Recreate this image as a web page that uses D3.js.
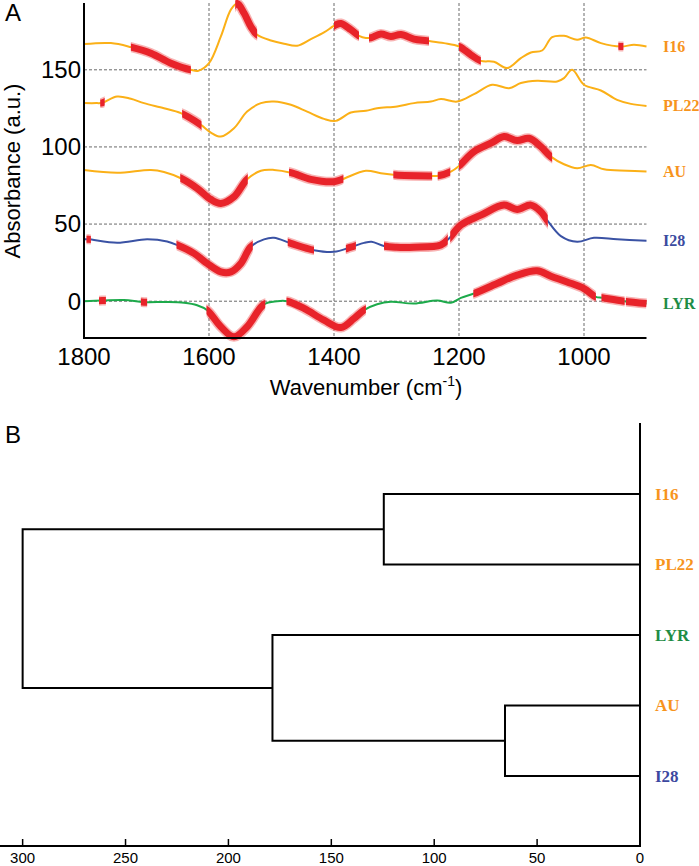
<!DOCTYPE html>
<html><head><meta charset="utf-8">
<script src="https://cdn.jsdelivr.net/npm/d3@7"></script>
<style>body{margin:0;background:#fff}svg{display:block}</style>
</head><body>
<svg id="c" width="699" height="866"></svg>
<script>
// ---------- Panel A data ----------
const xTicks = [1800, 1600, 1400, 1200, 1000];
const yTicks = [0, 50, 100, 150];
const seriesNames = ["I16", "PL22", "AU", "I28", "LYR"];
const seriesLine = ["#FBB017", "#FBB017", "#FBB017", "#3A52A4", "#1DAA4B"];
const seriesLabel = ["#F7941D", "#F7941D", "#F7941D", "#3B4BA0", "#1E8C45"];

const i16 = [[1800,166.7],[1757,167.3],[1725,164.7],[1693,160.8],[1661,154.3],[1629,150],[1617,149.4],[1600,154.3],[1581,171.6],[1565,189],[1555,193],[1544,186.8],[1533,178],[1523,172.7],[1501,169],[1480,166.9],[1459,165.6],[1437,169.9],[1416,174.2],[1397,179.2],[1389,180],[1373,176],[1360,172],[1349,170.6],[1341,170.8],[1325,173.2],[1309,171.6],[1293,172.9],[1272,169.9],[1251,168.8],[1224,167.3],[1200,165.1],[1181,159.7],[1165,155.8],[1144,155.2],[1123,151.1],[1101,157.6],[1085,161.2],[1067,162.5],[1051,171.2],[1032,172],[1011,169.5],[997,171],[973,167.3],[941,165.1],[920,166.2],[900,165.1]];
const pl22 = [[1800,128.4],[1780,128.4],[1771,128.6],[1747,132.7],[1725,131.2],[1704,128.4],[1672,125.1],[1645,121.9],[1613,114.3],[1597,109.3],[1581,106.7],[1560,112.1],[1539,122.9],[1517,128.4],[1496,129.4],[1469,127.3],[1443,122.9],[1416,118.2],[1397,116.9],[1373,122.3],[1349,123.4],[1331,125.1],[1299,126.2],[1272,128.4],[1245,129.4],[1229,131],[1203,129.4],[1176,134.2],[1147,140.3],[1120,138.1],[1101,141.4],[1075,142.9],[1043,142.4],[1032,144.6],[1019,150],[1000,140.3],[973,136.6],[947,130.5],[925,127.9],[900,126.6]];
const au = [[1800,85.1],[1747,83.3],[1693,85.1],[1672,83.8],[1645,79.7],[1619,73.2],[1597,66],[1581,63.4],[1560,67.7],[1539,79],[1517,84.6],[1496,85.1],[1469,83.3],[1437,79],[1400,77.5],[1387,79],[1349,84.6],[1325,82.9],[1301,81.8],[1245,81.2],[1235,81.2],[1213,84],[1200,87.7],[1176,97],[1149,102.4],[1128,106.7],[1107,104.1],[1088,105.6],[1069,100.2],[1053,93.7],[1032,88.8],[1011,86.2],[989,88.3],[968,85.5],[931,84.6],[900,84]];
const i28 = [[1800,40.1],[1793,40.1],[1747,37.9],[1699,40.1],[1667,38.7],[1651,36.4],[1624,31],[1603,24.5],[1581,19],[1565,19],[1549,24.5],[1533,35.3],[1512,40.1],[1496,41.1],[1469,37.5],[1432,33.1],[1400,32],[1373,35],[1352,37.8],[1340,38.6],[1320,35.8],[1300,35],[1272,35],[1229,36.4],[1216,40.7],[1197,49.4],[1165,55.8],[1128,62.3],[1107,59.5],[1085,62.3],[1069,58],[1059,52.6],[1037,42.2],[1011,38.5],[984,41.1],[947,40.1],[900,39.2]];
const lyr = [[1800,0],[1771,0.4],[1736,0.8],[1704,-0.6],[1667,-0.5],[1640,-1],[1619,-2.6],[1603,-5.8],[1581,-16.6],[1560,-23.1],[1539,-16.6],[1512,-2],[1491,0],[1475,0],[1448,-4.7],[1416,-12.3],[1389,-17.1],[1368,-11.2],[1352,-5.8],[1331,-2],[1309,-0.4],[1272,-1.5],[1235,0.4],[1213,-1],[1197,2.2],[1176,5],[1139,11.5],[1107,16.9],[1075,19.7],[1053,16.2],[1027,12.5],[1000,8.2],[981,2.8],[971,2.2],[936,0],[900,-1.5]];
const seriesData = [i16, pl22, au, i28, lyr];

// highlighted (significant) wavenumber ranges per series
const redI16 = [[1725,1629],[1558,1523],[1400,1360],[1344,1248],[1200,1165],[945,937]];
const redPL22 = [[1774,1767],[1643,1612]];
const redAU = [[1646,1538],[1472,1385],[1305,1243],[1234,1214],[1200,1051]];
const redI28 = [[1796,1789],[1652,1530],[1474,1432],[1381,1365],[1320,1218],[1214,1058]];
const redLYR = [[1776,1765],[1709,1699],[1604,1510],[1476,1349],[1177,981],[972,935],[933,900]];
const seriesRed = [redI16, redPL22, redAU, redI28, redLYR];

// ---------- Panel B data ----------
const leaves = ["I16", "PL22", "LYR", "AU", "I28"];
const leafColors = ["#F7941D", "#F7941D", "#1E8C45", "#F7941D", "#3C48A0"];
// merges: [childA, childB, height]; indices >= leaves.length refer to earlier merges
const merges = [[0, 1, 124.5], [3, 4, 65.6], [2, 6, 178.6], [5, 7, 300]];
const distTicks = [300, 250, 200, 150, 100, 50, 0];

const svg = d3.select("#c");
const sans = "'Liberation Sans', Arial, sans-serif";
const serif = "'Liberation Serif', 'Times New Roman', serif";

// ================= Panel A =================
const x = d3.scaleLinear().domain([1800, 900]).range([84, 646.5]);
const y = d3.scaleLinear().domain([-23.85, 193.3]).range([338, 3]);
const gA = svg.append("g");

// grid
gA.selectAll(".vg").data(xTicks.filter(d => d !== 1800)).join("line")
  .attr("x1", d => x(d)).attr("x2", d => x(d)).attr("y1", 3).attr("y2", 338)
  .attr("stroke", "#6a6a6a").attr("stroke-width", 1).attr("stroke-dasharray", "3,2");
gA.selectAll(".hg").data(yTicks).join("line")
  .attr("x1", 84).attr("x2", 646.5).attr("y1", d => y(d)).attr("y2", d => y(d))
  .attr("stroke", "#6a6a6a").attr("stroke-width", 1).attr("stroke-dasharray", "3,2");

const line = d3.line().x(d => x(d[0])).y(d => y(d[1])).curve(d3.curveCatmullRom.alpha(0.5));

// clip paths for red highlighted ranges
const defs = svg.append("defs");
seriesRed.forEach((ranges, i) => {
  const cp = defs.append("clipPath").attr("id", "red" + i);
  cp.selectAll("rect").data(ranges).join("rect")
    .attr("x", d => x(d[0]) - (d[0] >= 1800 ? 10 : 0))
    .attr("width", d => x(d[1]) - x(d[0]) + (d[0] >= 1800 ? 10 : 0) + (d[1] <= 900 ? 10 : 0))
    .attr("y", -20).attr("height", 380);
});

seriesData.forEach((data, i) => {
  gA.append("path").attr("d", line(data)).attr("fill", "none")
    .attr("stroke", seriesLine[i]).attr("stroke-width", 2);
});
seriesData.forEach((data, i) => {
  const g = gA.append("g").attr("clip-path", `url(#red${i})`);
  g.append("path").attr("d", line(data)).attr("fill", "none")
    .attr("stroke", "#F26868").attr("stroke-opacity", 0.5).attr("stroke-width", 10);
  g.append("path").attr("d", line(data)).attr("fill", "none")
    .attr("stroke", "#E8232A").attr("stroke-width", 7);
});

// axes lines
gA.append("line").attr("x1", 84).attr("x2", 84).attr("y1", 3).attr("y2", 339)
  .attr("stroke", "#000").attr("stroke-width", 2);
gA.append("line").attr("x1", 83).attr("x2", 646.5).attr("y1", 338).attr("y2", 338)
  .attr("stroke", "#000").attr("stroke-width", 2);

// tick labels
gA.selectAll(".xt").data(xTicks).join("text")
  .attr("x", d => x(d)).attr("y", 365).attr("text-anchor", "middle")
  .attr("font-family", sans).attr("font-size", 24).text(d => d);
gA.selectAll(".yt").data(yTicks).join("text")
  .attr("x", 81).attr("y", d => y(d)).attr("dy", "0.35em").attr("text-anchor", "end")
  .attr("font-family", sans).attr("font-size", 24).text(d => d);

// titles
const xt = gA.append("text").attr("x", 366).attr("y", 395).attr("text-anchor", "middle")
  .attr("font-family", sans).attr("font-size", 22);
xt.append("tspan").text("Wavenumber (cm");
xt.append("tspan").attr("font-size", 14).attr("dy", -9).text("-1");
xt.append("tspan").attr("dy", 9).text(")");
gA.append("text").attr("transform", "translate(20,171) rotate(-90)").attr("text-anchor", "middle")
  .attr("font-family", sans).attr("font-size", 22).text("Absorbance (a.u.)");
gA.append("text").attr("x", 5).attr("y", 21).attr("font-family", sans).attr("font-size", 24).text("A");

// series labels
seriesData.forEach((data, i) => {
  gA.append("text").attr("x", 663).attr("y", y(data[data.length - 1][1])).attr("dy", "0.35em")
    .attr("font-family", serif).attr("font-weight", "bold").attr("font-size", 16)
    .attr("fill", seriesLabel[i]).text(seriesNames[i]);
});

// ================= Panel B =================
const gB = svg.append("g");
const dx = d3.scaleLinear().domain([311, 0]).range([0, 640]);
const ly = d3.scalePoint().domain(leaves).range([494, 776]);

const nodes = leaves.map(l => ({ h: 0, y: ly(l) }));
merges.forEach(m => {
  const a = nodes[m[0]], b = nodes[m[1]];
  nodes.push({ h: m[2], y: (a.y + b.y) / 2, a, b });
});
nodes.filter(n => n.a).forEach(n => {
  gB.append("path")
    .attr("d", `M${dx(n.a.h)},${n.a.y}H${dx(n.h)}V${n.b.y}H${dx(n.b.h)}`)
    .attr("fill", "none").attr("stroke", "#000").attr("stroke-width", 2);
});

// right vertical line and bottom axis
gB.append("line").attr("x1", dx(0)).attr("x2", dx(0)).attr("y1", 423).attr("y2", 847)
  .attr("stroke", "#000").attr("stroke-width", 2);
gB.append("line").attr("x1", 0).attr("x2", dx(0) + 1).attr("y1", 846).attr("y2", 846)
  .attr("stroke", "#000").attr("stroke-width", 2);
gB.selectAll(".tk").data(distTicks).join("line")
  .attr("x1", d => dx(d)).attr("x2", d => dx(d)).attr("y1", 846).attr("y2", 839)
  .attr("stroke", "#000").attr("stroke-width", 1.5);
gB.selectAll(".tl").data(distTicks).join("text")
  .attr("x", d => dx(d)).attr("y", 863).attr("text-anchor", "middle")
  .attr("font-family", sans).attr("font-size", 15).text(d => d);

// leaf labels
gB.selectAll(".ll").data(leaves).join("text")
  .attr("x", 655).attr("y", d => ly(d)).attr("dy", "0.35em")
  .attr("font-family", serif).attr("font-weight", "bold").attr("font-size", 17)
  .attr("fill", (d, i) => leafColors[i]).text(d => d);

gB.append("text").attr("x", 5).attr("y", 443).attr("font-family", sans).attr("font-size", 24).text("B");
</script>
</body></html>
